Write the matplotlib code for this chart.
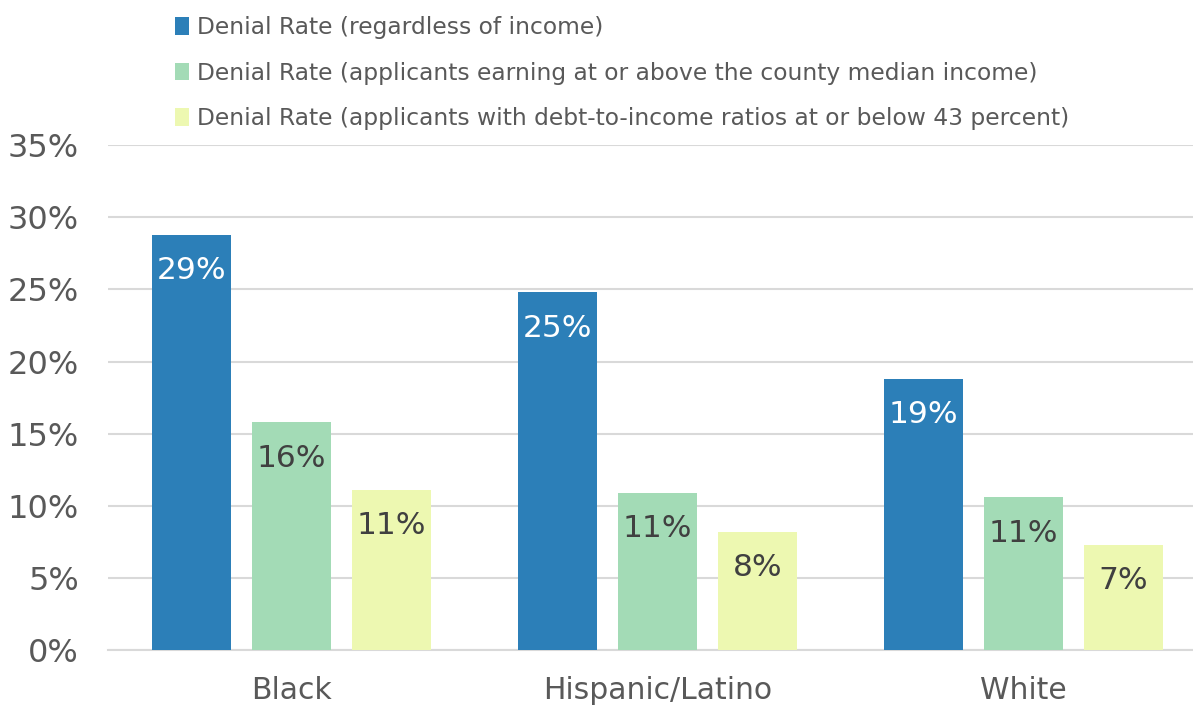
import matplotlib
matplotlib.use("Agg")
import matplotlib.pyplot as plt
import numpy as np
from matplotlib.patches import Patch

# Data (percent)
groups = ["Black", "Hispanic/Latino", "White"]
series_names = [
    "Denial Rate (regardless of income)",
    "Denial Rate (applicants earning at or above the county median income)",
    "Denial Rate (applicants with debt-to-income ratios at or below 43 percent)",
]
rate_all = [28.8, 24.8, 18.8]
rate_median_income = [15.8, 10.9, 10.6]
rate_dti_43 = [11.1, 8.2, 7.3]

colors = ["#2c7fb8", "#a3dbb6", "#edf8b1"]
label_colors = ["white", "#404040", "#404040"]
tick_color = "#595959"
grid_color = "#d9d9d9"

plt.rcParams["font.family"] = ["DejaVu Sans"]

fig = plt.figure(figsize=(11.93, 7.07), dpi=100)
ax = fig.add_axes([0.0905, 0.0806, 0.921, 0.714])

x = np.arange(len(groups))
width = 0.216
offset = 0.273
all_series = [rate_all, rate_median_income, rate_dti_43]

for i, vals in enumerate(all_series):
    pos = x + (i - 1) * offset
    ax.bar(pos, vals, width=width, color=colors[i], zorder=3)
    for px, v in zip(pos, vals):
        ax.annotate(f"{round(v):.0f}%", (px, v), xytext=(0, -36),
                    textcoords="offset pixels", ha="center", va="center",
                    fontsize=22.5, color=label_colors[i], zorder=4)

ax.set_xlim(-0.5, 2.5)
ax.set_ylim(0, 35)
ax.set_yticks(np.arange(0, 36, 5))
ax.set_yticklabels([f"{t}%" for t in range(0, 36, 5)])
ax.set_xticks(x)
ax.set_xticklabels(groups)

ax.yaxis.grid(True, color=grid_color, linewidth=1.5, zorder=0)
ax.set_axisbelow(True)
for side in ["top", "right", "left"]:
    ax.spines[side].set_visible(False)
ax.spines["bottom"].set_color(grid_color)
ax.spines["bottom"].set_linewidth(1.5)
ax.tick_params(axis="y", length=0, labelsize=23, colors=tick_color, pad=21)
ax.tick_params(axis="x", length=0, labelsize=21.5, colors=tick_color, pad=19)

handles = [Patch(facecolor=c) for c in colors]
fig.legend(handles, series_names, loc="upper left", bbox_to_anchor=(0.139, 0.99),
           frameon=False, fontsize=16.8, labelcolor=tick_color,
           handlelength=0.6, handleheight=0.8, handletextpad=0.35,
           labelspacing=0.95, borderaxespad=0)

fig.savefig("out.png", dpi=100)
